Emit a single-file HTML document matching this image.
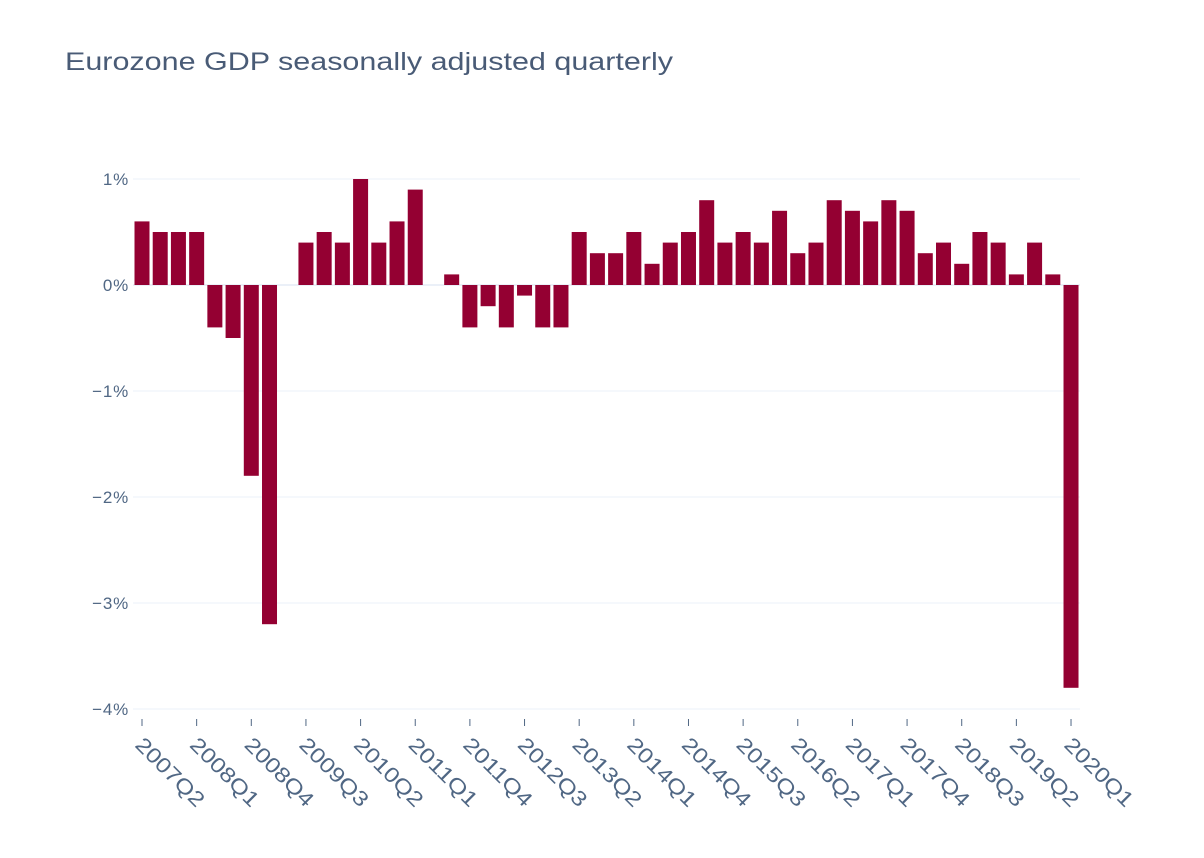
<!DOCTYPE html>
<html><head><meta charset="utf-8"><style>
body{margin:0;background:#fff;}
svg{display:block;font-family:"Liberation Sans",sans-serif;}
</style></head><body>
<svg width="1204" height="858" xmlns="http://www.w3.org/2000/svg">
<text x="65" y="70" font-size="25" fill="#2a3f5f" opacity="0.85" textLength="608" lengthAdjust="spacingAndGlyphs">Eurozone GDP seasonally adjusted quarterly</text>
<g stroke="#ebf0f8" stroke-width="1">
<line x1="133" x2="1080" y1="179" y2="179"/>
<line x1="133" x2="1080" y1="391" y2="391"/>
<line x1="133" x2="1080" y1="497" y2="497"/>
<line x1="133" x2="1080" y1="603" y2="603"/>
<line x1="133" x2="1080" y1="709" y2="709"/>
<line x1="133" x2="1080" y1="285" y2="285" stroke-width="2"/>
</g>
<g font-size="17" fill="#506784" text-anchor="end" letter-spacing="0.8">
<text x="129" y="185">1%</text>
<text x="129" y="291">0%</text>
<text x="129" y="397">−1%</text>
<text x="129" y="503">−2%</text>
<text x="129" y="609">−3%</text>
<text x="129" y="715">−4%</text>
</g>
<g id="bars" fill="#940032"></g>
<g id="ticks" stroke="#506784" stroke-width="1"></g>
<g id="labels" font-size="21" fill="#506784"></g>
</svg>
<script>
var v=[0.6,0.5,0.5,0.5,-0.4,-0.5,-1.8,-3.2,0,0.4,0.5,0.4,1.0,0.4,0.6,0.9,0,0.1,-0.4,-0.2,-0.4,-0.1,-0.4,-0.4,0.5,0.3,0.3,0.5,0.2,0.4,0.5,0.8,0.4,0.5,0.4,0.7,0.3,0.4,0.8,0.7,0.6,0.8,0.7,0.3,0.4,0.2,0.5,0.4,0.1,0.4,0.1,-3.8];
var ns="http://www.w3.org/2000/svg",b=document.getElementById("bars"),t=document.getElementById("ticks"),l=document.getElementById("labels");
var step=18.216;
for(var i=0;i<v.length;i++){
 var cx=142+step*i;
 if(v[i]!=0){var r=document.createElementNS(ns,"rect");var h=Math.abs(v[i])*106;
 r.setAttribute("x",cx-7.5);r.setAttribute("width",15);r.setAttribute("y",v[i]>0?285-h:285);r.setAttribute("height",h);b.appendChild(r);}
 if(i%3==0){
  var ln=document.createElementNS(ns,"line");ln.setAttribute("x1",cx);ln.setAttribute("x2",cx);ln.setAttribute("y1",719);ln.setAttribute("y2",726);t.appendChild(ln);
  var yr=2007+Math.floor((i+1)/4),q=(i+1)%4+1;
  var tx=document.createElementNS(ns,"text");tx.textContent=yr+"Q"+q;
  tx.setAttribute("textLength","88");tx.setAttribute("lengthAdjust","spacingAndGlyphs");
  tx.setAttribute("transform","translate("+(cx-8)+",746) rotate(45)");l.appendChild(tx);
 }
}
</script>
</body></html>
